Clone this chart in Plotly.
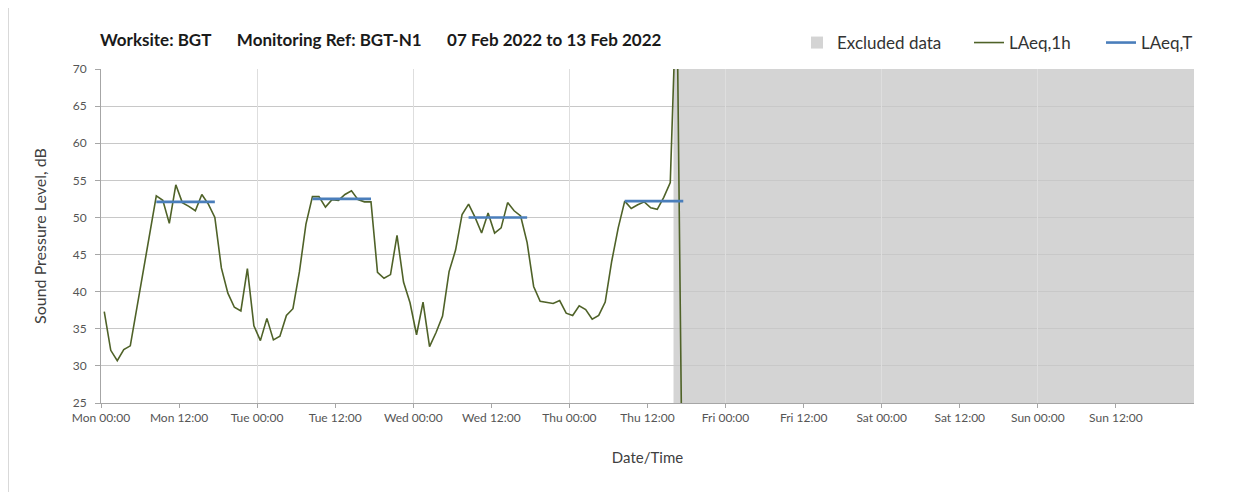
import pandas as pd
import plotly.graph_objects as go

# ---------------- data ----------------
title_parts = ["Worksite: BGT", "Monitoring Ref: BGT-N1", "07 Feb 2022 to 13 Feb 2022"]
series_start = "2022-02-07 00:30"   # hourly LAeq,1h samples (plotted at half hour)
laeq_1h = [
    37.3, 32.1, 30.7, 32.2, 32.7, 37.7, 42.9, 47.9, 52.9, 52.3, 49.2, 54.4,
    52.0, 51.5, 50.9, 53.1, 51.8, 50.0, 43.2, 39.8, 37.9, 37.4, 43.1, 35.4,
    33.4, 36.4, 33.5, 34.0, 36.8, 37.7, 42.7, 49.1, 52.8, 52.8, 51.4, 52.4,
    52.3, 53.1, 53.6, 52.4, 52.1, 52.1, 42.6, 41.8, 42.3, 47.6, 41.3, 38.5,
    34.2, 38.6, 32.6, 34.5, 36.7, 42.7, 45.6, 50.4, 51.8, 50.0, 47.9, 50.6,
    47.9, 48.6, 52.0, 50.9, 50.2, 46.6, 40.7, 38.7, 38.5, 38.4, 38.8, 37.1,
    36.8, 38.1, 37.6, 36.3, 36.8, 38.6, 44.1, 48.6, 52.2, 51.2, 51.7, 52.1,
    51.3, 51.1, 52.7, 54.7, 82.0, 0.0,
]

period_days = ["2022-02-07", "2022-02-08", "2022-02-09", "2022-02-10"]
period_first_sample = "08:30"
period_last_sample = "17:30"
laeq_T = [52.1, 52.5, 50.0, 52.2]

excluded_start = ["2022-02-10 16:00"]
excluded_end = ["2022-02-14 00:00"]

x_range = ["2022-02-07 00:00", "2022-02-14 00:00"]
x_tick_count = 14            # Mon 00:00 ... Sun 12:00, every 12 h
y_range = [25, 70]

# ---------------- build ----------------
t_1h = pd.date_range(series_start, periods=len(laeq_1h), freq="h")
x_ticks = pd.date_range(x_range[0], periods=x_tick_count, freq="12h")

bx, by = [], []
for d, v in zip(period_days, laeq_T):
    bx += [pd.Timestamp(f"{d} {period_first_sample}"), pd.Timestamp(f"{d} {period_last_sample}"), None]
    by += [v, v, None]

FONT = "Lato, 'Open Sans', sans-serif"
# The page body has an 8px margin; the figure is sized to fill the rest of the window.
W, H = 1244, 484
L, R, T, B = 93, 58, 61, 89
PW, PH = W - L - R, H - T - B


def px_x(fx):
    return (fx - L) / PW


def px_y(fy):
    return (H - B - fy) / PH


fig = go.Figure()

fig.add_trace(go.Scatter(
    x=t_1h, y=laeq_1h, mode="lines", name="LAeq,1h", legend="legend2",
    line=dict(color="#4f6228", width=1.6),
))
fig.add_trace(go.Scatter(
    x=bx, y=by, mode="lines", name="LAeq,T", legend="legend3",
    line=dict(color="#4a7ebb", width=2.6),
))
# helper trace so the overlay axis (daily gridlines) is drawn
fig.add_trace(go.Scatter(x=[pd.Timestamp(x_range[0])], y=[None], xaxis="x2",
                         showlegend=False, hoverinfo="skip"))

for s, e in zip(excluded_start, excluded_end):
    fig.add_shape(type="rect", xref="x", yref="y domain", x0=s, x1=e, y0=0, y1=1,
                  fillcolor="#d4d4d4", line=dict(width=0), layer="below",
                  showlegend=True, name="Excluded data", legend="legend")

# chart-area border (left edge visible in the reference)
fig.add_shape(type="line", xref="paper", yref="paper",
              x0=px_x(0.5), x1=px_x(0.5), y0=px_y(H), y1=px_y(0),
              line=dict(color="#d9d9d9", width=1), layer="below")

legend_common = dict(orientation="h", yanchor="middle", y=px_y(35), xanchor="left",
                     font=dict(family=FONT, size=17, color="#333333"),
                     itemwidth=30, bgcolor="rgba(0,0,0,0)")

sep = "\u2003\u2003"
fig.update_layout(
    width=W, height=H,
    margin=dict(l=L, r=R, t=T, b=B),
    paper_bgcolor="white", plot_bgcolor="white",
    font=dict(family=FONT, color="#404040"),
    title=dict(text=sep.join(title_parts), x=92 / W, xanchor="left", y=1 - 32 / H, yanchor="middle",
               font=dict(family=FONT, size=17, color="#1a1a1a", weight="bold")),
    legend=dict(legend_common, x=px_x(789)),
    legend2=dict(legend_common, x=px_x(961)),
    legend3=dict(legend_common, x=px_x(1093)),
    xaxis=dict(
        type="date", range=x_range, tickmode="array", tickvals=x_ticks,
        tickformat="%a %H:%M", showgrid=False,
        ticks="outside", ticklen=4, tickcolor="#a6a6a6",
        showline=True, linecolor="#a6a6a6", linewidth=1,
        tickfont=dict(family=FONT, size=12, color="#555555"),
        title=dict(text="Date/Time", font=dict(family=FONT, size=15, color="#404040"), standoff=28),
    ),
    xaxis2=dict(
        type="date", range=x_range, overlaying="x", anchor="y", matches="x",
        dtick=24 * 3600 * 1000, tick0=x_range[0], showticklabels=False, ticks="",
        showgrid=True, gridcolor="#dedede", gridwidth=1, showline=False, zeroline=False,
    ),
    yaxis=dict(
        range=y_range, dtick=5, showgrid=True, gridcolor="#c8c8c8", gridwidth=1,
        ticks="outside", ticklen=5, tickcolor="#a6a6a6", ticklabelstandoff=6,
        showline=True, linecolor="#a6a6a6", linewidth=1, zeroline=False,
        tickfont=dict(family=FONT, size=12, color="#555555"),
        title=dict(text="Sound Pressure Level, dB", font=dict(family=FONT, size=16, color="#404040"),
                   standoff=22),
    ),
    showlegend=True,
)

fig.write_html("out.html")
